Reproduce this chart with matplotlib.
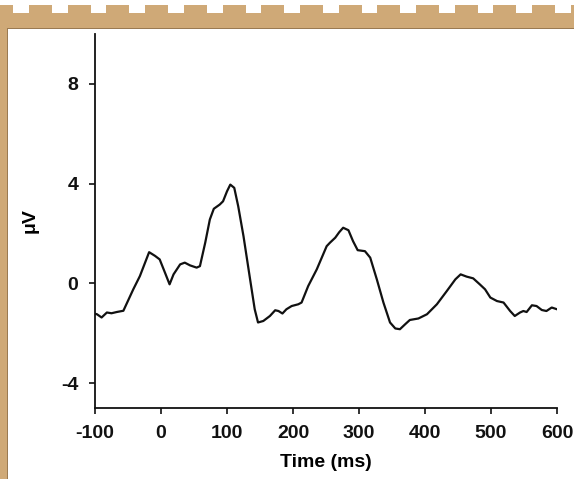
import matplotlib
matplotlib.use("Agg")
import matplotlib.pyplot as plt
from matplotlib.patches import Rectangle

# ERP waveform
time_ms = [-100, -97, -90, -82, -75, -67, -57, -42, -32, -18, -9, -2, 6, 13, 19,
           29, 36, 44, 54, 59, 67, 74, 80, 89, 94, 100, 105, 111, 117, 125,
           135, 142, 147, 155, 165, 173, 178, 184, 190, 198, 208, 213, 223, 236,
           251, 256, 264, 270, 276, 284, 291, 298, 309, 317, 327, 337, 347, 355,
           362, 370, 377, 390, 403, 418, 433, 446, 454, 463, 473, 483, 491, 499,
           509, 519, 529, 536, 544, 549, 554, 562, 569, 577, 584, 592, 600]
amplitude_uv = [-1.22, -1.24, -1.37, -1.17, -1.20, -1.15, -1.10, -0.24, 0.29, 1.25,
                1.10, 0.96, 0.43, -0.04, 0.36, 0.76, 0.83, 0.72, 0.63, 0.69,
                1.63, 2.56, 2.99, 3.16, 3.29, 3.69, 3.96, 3.83, 3.09, 1.89,
                0.16, -1.04, -1.57, -1.51, -1.31, -1.08, -1.11, -1.21, -1.04, -0.91,
                -0.84, -0.77, -0.11, 0.56, 1.49, 1.63, 1.83, 2.05, 2.23, 2.13,
                1.69, 1.33, 1.29, 1.03, 0.16, -0.77, -1.57, -1.81, -1.84, -1.64,
                -1.47, -1.41, -1.24, -0.84, -0.31, 0.16, 0.36, 0.27, 0.20, -0.04,
                -0.24, -0.57, -0.71, -0.77, -1.11, -1.31, -1.17, -1.11, -1.15, -0.88,
                -0.91, -1.07, -1.11, -0.97, -1.04]
x_ticks = [-100, 0, 100, 200, 300, 400, 500, 600]
y_ticks = [-4, 0, 4, 8]

W, H = 574, 479
tan = "#cfa977"
edge = "#9a7a52"

plt.rcParams["font.family"] = ["Liberation Sans", "DejaVu Sans"]
plt.rcParams["font.weight"] = "bold"
plt.rcParams["axes.unicode_minus"] = False

fig = plt.figure(figsize=(W / 100, H / 100), dpi=100)
fig.patch.set_facecolor("white")


def frame_rect(x0, y0, x1, y1, color):
    # pixel box (top-left origin) -> figure fraction rectangle
    fig.add_artist(Rectangle((x0 / W, 1 - y1 / H), (x1 - x0) / W, (y1 - y0) / H,
                             transform=fig.transFigure, facecolor=color,
                             edgecolor="none", zorder=0))


# tan frame: crenellated top strip and left edge
frame_rect(0, 13, W, 28, tan)
frame_rect(0, 5, 13, 13, tan)
x = 29.0
while x < W:
    frame_rect(x, 5, x + 23, 13, tan)
    x += 38.7
frame_rect(0, 13, 7, H, tan)
frame_rect(7, 28, W, 29.2, edge)
frame_rect(7, 28, 8, H, edge)

ax = fig.add_axes([95 / W, 1 - 408 / H, (557 - 95) / W, (408 - 34) / H])
ax.set_facecolor("none")
ax.plot(time_ms, amplitude_uv, color="#111111", lw=1.6, solid_joinstyle="round")

ax.set_xlim(-100, 600)
ax.set_ylim(-5, 10)
ax.set_xticks(x_ticks)
ax.set_yticks(y_ticks)
ax.spines["top"].set_visible(False)
ax.spines["right"].set_visible(False)
for s in ("left", "bottom"):
    ax.spines[s].set_linewidth(1.3)
    ax.spines[s].set_color("#111111")
ax.tick_params(direction="out", length=4, width=1.2, colors="#111111",
               labelsize=14)
ax.tick_params(axis="x", pad=8)
ax.tick_params(axis="y", pad=8)
for lab in ax.get_xticklabels() + ax.get_yticklabels():
    lab.set_fontweight("bold")

ax.set_xlabel("Time (ms)", fontsize=14, fontweight="bold", labelpad=9)
ax.set_ylabel("μV", fontsize=14, fontweight="bold", labelpad=16)

fig.savefig("out.png", dpi=100)
